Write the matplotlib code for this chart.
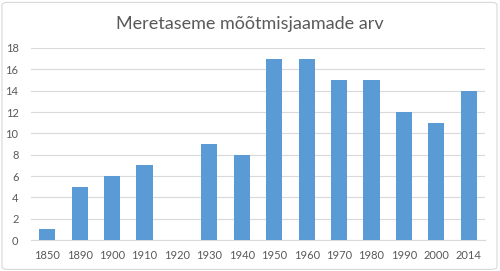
import matplotlib
matplotlib.use("Agg")
import matplotlib.pyplot as plt
from matplotlib.patches import FancyBboxPatch

years = ['1850', '1890', '1900', '1910', '1920', '1930', '1940',
         '1950', '1960', '1970', '1980', '1990', '2000', '2014']
stations = [1, 5, 6, 7, 0, 9, 8, 17, 17, 15, 15, 12, 11, 14]
yticks = [0, 2, 4, 6, 8, 10, 12, 14, 16, 18]

plt.rcParams['font.family'] = ['Lato', 'DejaVu Sans']

fig = plt.figure(figsize=(5, 2.71), dpi=100)
ax = fig.add_axes([0.062, 0.114, 0.908, 0.709])

x = list(range(len(years)))
ax.bar(x, stations, width=0.5, color='#5B9BD5', zorder=3)

ax.set_xlim(-0.5, len(years) - 0.5)
ax.set_ylim(0, 18)
ax.set_yticks(yticks)
ax.set_xticks(x)
ax.set_xticklabels(years)
ax.tick_params(axis='both', length=0, labelsize=8, colors='#595959')
ax.tick_params(axis='x', pad=7)
ax.tick_params(axis='y', pad=9)
ax.grid(axis='y', color='#D9D9D9', linewidth=0.8, zorder=0)
for side in ['top', 'right', 'left']:
    ax.spines[side].set_visible(False)
ax.spines['bottom'].set_color('#D9D9D9')

fig.text(0.5, 0.91, 'Meretaseme mõõtmisjaamade arv', ha='center', va='center',
         fontsize=13, color='#595959')

# light border around the chart
border = FancyBboxPatch((0.004, 0.006), 0.99, 0.985, boxstyle='round,pad=0,rounding_size=0.01',
                        transform=fig.transFigure, fill=False, edgecolor='#D9D9D9', linewidth=0.8)
fig.patches.append(border)

fig.savefig('out.png', dpi=100)
